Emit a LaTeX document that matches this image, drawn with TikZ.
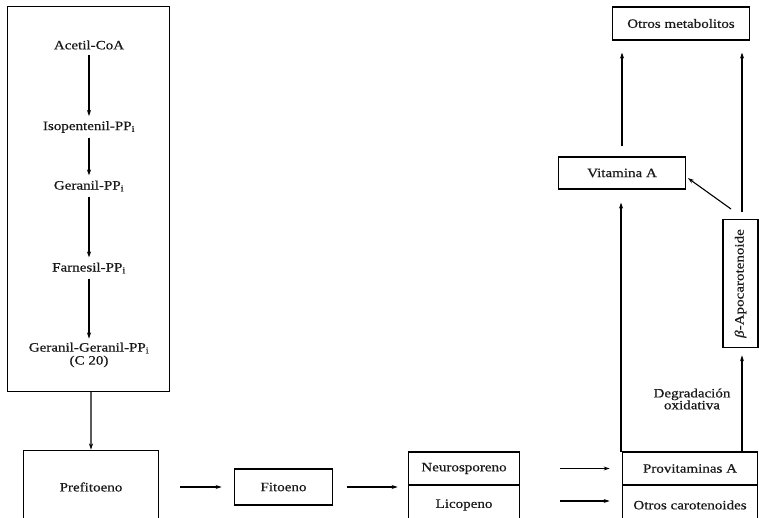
\documentclass[tikz,border=0pt]{standalone}
\usepackage{fontspec}
\setmainfont{Liberation Serif}[FakeStretch=1.18,FakeBold=0.6]
\usetikzlibrary{arrows.meta}
\begin{document}
\begin{tikzpicture}[x=1bp,y=-1bp,
  every node/.style={font=\fontsize{12.8}{14}\selectfont, text=black!90},
  box/.style={draw, line width=1.2bp, inner sep=0pt, minimum width=#1},
  lbl/.style={inner sep=2bp},
  arr/.style={line width=1.1bp, -{Stealth[length=6bp,width=4bp]}}]
\useasboundingbox (0,0) rectangle (759,518);
\clip (0,0) rectangle (759,518);
% big box
\node[box=163, minimum height=386] (big) at (88.5,199) {};
\node[lbl] (acetil) at (89,45) {Acetil-CoA};
\node[lbl] (iso) at (89,127) {Isopentenil-PP\textsubscript{i}};
\node[lbl] (ger) at (89,186) {Geranil-PP\textsubscript{i}};
\node[lbl] (farn) at (89,268) {Farnesil-PP\textsubscript{i}};
\node[lbl, align=center] (gg) at (89,355) {Geranil-Geranil-PP\textsubscript{i}\\[-1bp](C 20)};
\draw[arr, shorten <=3bp, shorten >=3bp] (acetil) -- (iso);
\draw[arr, shorten <=3bp, shorten >=3bp] (iso) -- (ger);
\draw[arr, shorten <=3bp, shorten >=3bp] (ger) -- (farn);
\draw[arr, shorten <=3bp, shorten >=2bp] (farn) -- (gg);
% bottom row
\node[box=136, minimum height=74] (pref) at (91,487) {Prefitoeno};
\draw[arr] ([xshift=2.5bp]big.south) -- ([xshift=0bp]pref.north);
\node[box=99, minimum height=36] (fito) at (283.5,487) {Fitoeno};
\draw[arr, shorten <=21bp, shorten >=12bp] (pref.east) -- (fito.west);
\node[box=112, minimum height=33] (neuro) at (464,468.5) {Neurosporeno};
\node[box=112, minimum height=40] (lico) at (464,505) {Licopeno};
\draw[arr, shorten <=14bp, shorten >=10bp] (fito.east) -- (fito.east -| neuro.west);
\node[box=136, minimum height=33] (prov) at (690,468.5) {Provitaminas A};
\node[box=136, minimum height=40] (otcar) at (690,505) {Otros carotenoides};
\draw[arr, shorten <=40bp, shorten >=12bp] (neuro.east) -- (prov.west);
\draw[arr, shorten <=40bp, shorten >=12bp] ([yshift=4bp]lico.center -| lico.east) -- ([yshift=4bp]lico.center -| otcar.west);
% right column
\node[box=138, minimum height=33] (otmet) at (681,23.5) {Otros metabolitos};
\node[box=128, minimum height=32] (vita) at (622,173) {Vitamina A};
\node[box=35, minimum height=129] (beta) at (740.5,283.5) {\rotatebox{90}{\textit{β}-Apocarotenoide}};
\coordinate (pl) at (621,452);
\coordinate (pr) at (742,452);
\draw[arr, shorten >=13bp] (pl) -- (pl |- vita.south);
\draw[arr, shorten <=10bp, shorten >=12bp] (vita.north) -- (vita.north |- otmet.south);
\draw[arr, shorten >=7bp] (pr) -- (pr |- beta.south);
\draw[arr, shorten <=7bp, shorten >=12bp] (pr |- beta.north) -- (pr |- otmet.south);
\coordinate (dstart) at (731,209);
\draw[arr, shorten >=2bp] (dstart) -- ([yshift=-4bp]vita.east);
\node[lbl, align=center] (degr) at (692,399) {Degradación\\[-2bp]oxidativa};
\end{tikzpicture}
\end{document}
